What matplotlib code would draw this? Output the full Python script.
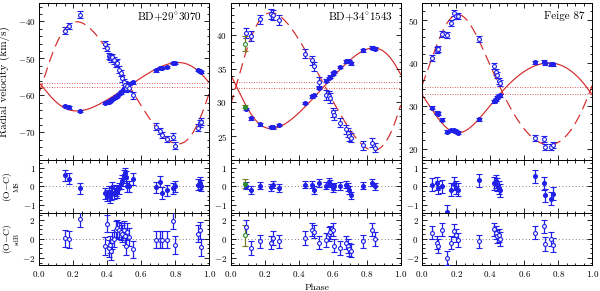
import numpy as np
import matplotlib
matplotlib.use("Agg")
import matplotlib.pyplot as plt
from matplotlib.ticker import MultipleLocator, FuncFormatter
from matplotlib.transforms import blended_transform_factory

plt.rcParams.update({
    "font.family": "serif",
    "font.serif": ["cmr10"],
    "mathtext.fontset": "cm",
    "axes.formatter.use_mathtext": True,
    "axes.linewidth": 0.7,
})

# ---------------- data ----------------
names = ["BD+29$^{\\circ}$3070", "BD+34$^{\\circ}$1543", "Feige 87"]

# BD+29 3070
phase1 = [0.155, 0.175, 0.24, 0.39, 0.40, 0.41, 0.415, 0.425, 0.43, 0.44, 0.45, 0.46, 0.47, 0.48, 0.49,
          0.50, 0.505, 0.51, 0.52, 0.53, 0.55, 0.685, 0.71, 0.725, 0.75, 0.79, 0.80, 0.935, 0.945, 0.955]
rv_ms1 = [-62.8, -63.25, -64.15, -62.1, -61.9, -61.7, -61.5, -61.2, -61.0, -60.7, -60.3, -60.1, -59.6, -59.2, -58.8,
          -58.3, -57.9, -57.6, -57.4, -57.0, -56.5, -53.25, -52.5, -52.5, -52.3, -51.3, -51.3, -53.1, -53.4, -53.6]
rv_sdb1 = [-42.5, -41.2, -38.2, -46.2, -47.1, -49.35, -49.6, -50.0, -49.6, -50.5, -51.4, -51.1, -53.0, -53.9, -55.4,
           -56.4, -57.1, -58.1, -57.4, -58.0, -60.0, -68.4, -69.6, -70.7, -71.8, -71.1, -73.6, -68.7, -67.5, -67.1]
res_ms1 = [0.6, 0.42, -0.1, -0.36, -0.5, -0.3, -0.58, -0.4, -0.05, -0.36, -0.2, -0.3, -0.1, 0.15, 0.3,
           0.6, 0.7, 0.5, 0.0, 0.0, 0.4, -0.05, 0.25, -0.35, -0.2, -0.1, 0.0, 0.1, 0.18, 0.05]
res_sdb1 = [0.05, -0.05, 2.1, -0.75, 1.6, -1.0, -0.6, -1.3, -0.2, 0.0, 0.95, 1.1, 0.9, 0.75, 0.55,
            0.95, 0.25, -0.75, 0.75, 0.2, -1.1, -0.1, -0.1, -0.1, -0.1, 1.9, -0.65, 0.55, 0.9, -0.9]

# BD+34 1543
phase2 = [0.09, 0.122, 0.176, 0.235, 0.247, 0.284, 0.438, 0.477, 0.493, 0.521, 0.562, 0.576, 0.586, 0.602,
          0.611, 0.645, 0.678, 0.69, 0.698, 0.708, 0.779, 0.832, 0.852]
rv_ms2 = [29.0, 27.65, 26.75, 26.35, 26.3, 26.65, 29.9, 30.9, 31.1, 32.15, 33.25, 33.65, 33.85, 34.25,
          34.5, 35.25, 36.1, 36.1, 36.1, 35.8, 37.75, 38.15, 38.0]
rv_sdb2 = [40.3, 39.9, 42.35, 43.15, 43.0, 42.25, 37.25, 36.25, 35.35, 33.1, 31.1, 31.0, 30.65, 28.5,
           28.15, 27.0, 26.0, 25.5, 25.0, 24.75, 23.6, 24.0, 23.25]
res_ms2 = [0.05, -0.2, 0.05, -0.05, 0.1, -0.07, 0.1, 0.1, -0.18, 0.18, 0.05, 0.23, 0.15, -0.07,
           0.0, 0.03, 0.1, -0.03, -0.2, -0.48, 0.05, 0.2, 0.0]
res_sdb2 = [1.25, -0.95, -0.25, -0.4, 0.1, -0.25, 0.1, 0.95, 0.75, -0.4, -0.1, 0.5, 0.7, 0.95,
            -0.7, -0.95, -0.4, -0.75, -1.1, -1.25, -0.25, 0.95, 0.0]
# separate (green) observation of BD+34 1543
phase2_g = [0.083]
rv_ms2_g = [29.35]
rv_sdb2_g = [38.75]
res_ms2_g = [0.15]
res_sdb2_g = [0.4]

# Feige 87
phase3 = [0.061, 0.086, 0.092, 0.116, 0.145, 0.171, 0.19, 0.198, 0.214, 0.335, 0.425, 0.435, 0.443, 0.453,
          0.459, 0.661, 0.714, 0.724, 0.759, 0.767]
rv_ms3 = [29.6, 28.4, 28.1, 26.7, 23.9, 24.3, 24.3, 24.1, 23.75, 26.9, 31.0, 31.4, 32.0, 32.3,
          32.4, 40.1, 40.3, 39.9, 39.7, 39.7]
rv_sdb3 = [41.1, 42.9, 43.3, 46.8, 46.4, 49.2, 51.7, 50.9, 50.9, 45.6, 39.3, 37.9, 37.2, 35.8,
           35.4, 22.5, 22.3, 20.3, 20.3, 20.9]
res_ms3 = [0.1, 0.18, -0.07, 0.0, -1.35, -0.18, 0.14, -0.07, -0.18, 0.32, 0.18, 0.28, 0.09, -0.07,
           -0.21, 0.54, 0.18, -0.48, -0.66, -0.39]
res_sdb3 = [0.65, -0.38, -0.75, 0.95, -2.0, -0.38, 0.87, 0.38, -0.1, -0.26, 1.0, 0.65, 0.26, 0.38,
            0.0, 0.65, 1.3, -0.55, 0.0, -0.65]

# measurement errors (km/s)
err_ms = [0.3, 0.2, 0.35]
err_sdb = [0.9, 0.7, 0.7]
err_ms_g = 0.25
err_sdb_g = 1.1

# orbital solutions: eccentricity, periastron phase, omega(sdB) [deg], K_MS, gamma_MS, K_sdB, gamma_sdB
ecc = [0.15, 0.16, 0.13]
phase_peri = [0.02, 0.04, 0.157]
omega_sdb = [270.0, 270.0, 335.0]
k_ms = [6.55, 6.0, 8.15]
gamma_ms = [-57.65, 32.1, 32.8]
k_sdb = [16.5, 10.25, 15.2]
gamma_sdb = [-56.6, 33.1, 34.3]

rv_ylim = [(-77.5, -35.0), (21.4, 44.8), (17.3, 54.0)]
rv_major = [10, 5, 10]
rv_minor = [2, 1, 2]

phases = [phase1, phase2, phase3]
rvms = [rv_ms1, rv_ms2, rv_ms3]
rvsdb = [rv_sdb1, rv_sdb2, rv_sdb3]
resms = [res_ms1, res_ms2, res_ms3]
ressdb = [res_sdb1, res_sdb2, res_sdb3]


def kepler_rv(ph, e, phip, omega_deg, K, gamma):
    M = 2 * np.pi * (np.asarray(ph) - phip)
    E = M.copy()
    for _ in range(60):
        E = E - (E - e * np.sin(E) - M) / (1 - e * np.cos(E))
    nu = 2 * np.arctan2(np.sqrt(1 + e) * np.sin(E / 2), np.sqrt(1 - e) * np.cos(E / 2))
    w = np.radians(omega_deg)
    return gamma + K * (np.cos(nu + w) + e * np.cos(w))


# ---------------- style ----------------
BLUE = "#2020e8"
RED = "#d42a2a"
GREEN = "#2e8b2e"
GREEN_E = "#7a7a20"
TICK_FS = 6.5

fig = plt.figure(figsize=(6.0, 2.91), dpi=100)
gs = fig.add_gridspec(3, 3, height_ratios=[3, 1, 1], left=0.065, right=0.987,
                      top=0.99, bottom=0.089, wspace=0.126, hspace=0.0)


def fmt_num(dec):
    def f(v, pos):
        s = ("%." + str(dec) + "f") % v
        if s.startswith("-0") and float(s) == 0:
            s = s[1:]
        return "$%s$" % s
    return FuncFormatter(f)


def style(ax):
    ax.tick_params(which="both", direction="in", top=True, right=True, labelsize=TICK_FS,
                   width=0.6, pad=2.5)
    ax.tick_params(which="major", length=3.5)
    ax.tick_params(which="minor", length=1.8)
    ax.xaxis.set_major_locator(MultipleLocator(0.2))
    ax.xaxis.set_minor_locator(MultipleLocator(0.05))
    ax.set_xlim(0.0, 1.0)


def ebar(ax, x, y, err, filled, color=BLUE, ecolor=BLUE):
    ax.errorbar(x, y, yerr=err, fmt="o", ms=2.8, mew=0.8,
                mfc=color if filled else "white", mec=color,
                ecolor=ecolor, elinewidth=0.9, capsize=2.3, capthick=0.9, zorder=3)


grid = np.linspace(0, 1, 600)

for j in range(3):
    ax = fig.add_subplot(gs[0, j])
    axm = fig.add_subplot(gs[1, j], sharex=ax)
    axs = fig.add_subplot(gs[2, j], sharex=ax)
    for a in (ax, axm, axs):
        style(a)

    e, pp, w = ecc[j], phase_peri[j], omega_sdb[j]
    ax.plot(grid, kepler_rv(grid, e, pp, w - 180.0, k_ms[j], gamma_ms[j]), color=RED, lw=0.85, zorder=1)
    ax.plot(grid, kepler_rv(grid, e, pp, w, k_sdb[j], gamma_sdb[j]), color=RED, lw=0.85,
            ls=(0, (9, 5)), zorder=1)
    ax.axhline(gamma_ms[j], color=RED, lw=0.6, ls=(0, (1, 2)), zorder=1)
    ax.axhline(gamma_sdb[j], color=RED, lw=0.6, ls=(0, (1, 2)), zorder=1)

    ebar(ax, phases[j], rvms[j], err_ms[j], True)
    ebar(ax, phases[j], rvsdb[j], err_sdb[j], False)
    ebar(axm, phases[j], resms[j], err_ms[j], True)
    ebar(axs, phases[j], ressdb[j], err_sdb[j], False)
    if j == 1:
        ebar(ax, phase2_g, rv_ms2_g, err_ms_g, True, GREEN, GREEN_E)
        ebar(ax, phase2_g, rv_sdb2_g, err_sdb_g, False, GREEN, GREEN_E)
        ebar(axm, phase2_g, res_ms2_g, err_ms_g, True, GREEN, GREEN_E)
        ebar(axs, phase2_g, res_sdb2_g, err_sdb_g, False, GREEN, GREEN_E)

    for a in (axm, axs):
        a.axhline(0.0, color="#555555", lw=0.6, ls=(0, (1, 3)), zorder=1)

    ax.set_ylim(*rv_ylim[j])
    ax.yaxis.set_major_locator(MultipleLocator(rv_major[j]))
    ax.yaxis.set_minor_locator(MultipleLocator(rv_minor[j]))
    ax.yaxis.set_major_formatter(fmt_num(0))

    axm.set_ylim(-1.4, 1.4)
    axm.yaxis.set_major_locator(MultipleLocator(1))
    axm.yaxis.set_minor_locator(MultipleLocator(0.25))
    axm.yaxis.set_major_formatter(fmt_num(0))

    axs.set_ylim(-2.75, 2.75)
    axs.yaxis.set_major_locator(MultipleLocator(2))
    axs.yaxis.set_minor_locator(MultipleLocator(0.5))
    axs.yaxis.set_major_formatter(fmt_num(0))

    ax.tick_params(labelbottom=False)
    axm.tick_params(labelbottom=False)
    axs.xaxis.set_major_formatter(fmt_num(1))

    ax.text(0.957, 0.915, names[j], transform=ax.transAxes, ha="right", va="center", fontsize=8)

    if j == 0:
        ax.set_ylabel("Radial velocity (km/s)", fontsize=8)
        ax.yaxis.set_label_coords(-0.17, 0.5)
        for a, sub in ((axm, "MS"), (axs, "sdB")):
            tr = blended_transform_factory(fig.transFigure, a.transAxes)
            a.text(7.0 / 600, 0.5, "(O$-$C)", transform=tr, rotation=90,
                   ha="center", va="center", fontsize=7)
            a.text(16.5 / 600, 0.5, sub, transform=tr, rotation=90,
                   ha="center", va="center", fontsize=5.2)
    if j == 1:
        axs.set_xlabel("Phase", fontsize=7)
        axs.xaxis.set_label_coords(0.51, -0.36)

fig.savefig("out.png", dpi=100)
